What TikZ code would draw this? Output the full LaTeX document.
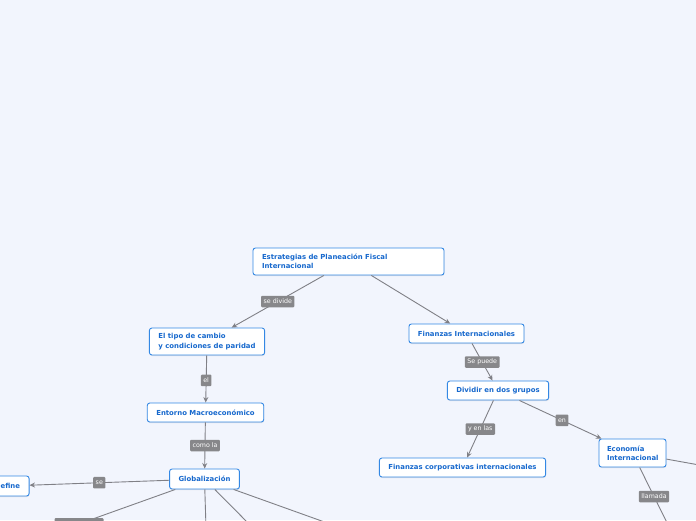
\documentclass[tikz,border=0pt]{standalone}
\usepackage{fontspec}
\setmainfont{DejaVu Sans}
\usetikzlibrary{arrows.meta,shadows}
\definecolor{bg}{RGB}{242,245,253}
\definecolor{nodeblue}{RGB}{52,136,228}
\definecolor{textblue}{RGB}{22,104,205}
\definecolor{edgegray}{RGB}{128,128,134}
\definecolor{lblgray}{RGB}{135,135,138}
\begin{document}
\begin{tikzpicture}[x=1pt,y=-1pt,
  topic/.style={draw=nodeblue, line width=0.9pt, fill=white, rounded corners=2.5pt,
    font=\fontsize{6.9}{9.3}\selectfont\bfseries, text=textblue, anchor=center,
    inner xsep=9pt, inner ysep=0pt,
    drop shadow={opacity=0.18, shadow xshift=0.4pt, shadow yshift=-1pt}},
  lefttext/.style={align=left, text width=#1},
  conn/.style={draw=edgegray, line width=0.9pt},
  arr/.style={conn, -{Stealth[length=5.5pt,width=5pt]}},
  lbl/.style={fill=lblgray, text=white, font=\fontsize{6.3}{7}\selectfont,
    inner xsep=2.5pt, inner ysep=0pt, rounded corners=1pt, minimum height=11.5pt,
    text height=5pt, text depth=1.3pt}
]
\useasboundingbox (0,0) rectangle (696,520);
\clip (0,0) rectangle (696,520);
\fill[bg] (0,0) rectangle (696,520);

% nodes
\node[topic, lefttext=173pt, minimum height=27pt] (est) at (348.5,261.5)
  {Estrategias de Planeación Fiscal\\Internacional};
\node[topic, align=left, minimum width=114pt, minimum height=27pt] (tipo) at (207,341.5)
  {El tipo de cambio\\y condiciones de paridad};
\node[topic, minimum width=115pt, minimum height=19pt] (ent) at (205.5,412.5)
  {Entorno Macroeconómico};
\node[topic, minimum width=69pt, minimum height=20pt] (glob) at (204.5,479)
  {Globalización};
\node[topic, minimum width=43pt, minimum height=20pt] (def) at (7.5,486)
  {Define};
\node[topic, minimum width=115pt, minimum height=19pt] (finint) at (466.5,333.5)
  {Finanzas Internacionales};
\node[topic, minimum width=100pt, minimum height=19pt] (div) at (498,390.5)
  {Dividir en dos grupos};
\node[topic, minimum width=165pt, minimum height=19pt] (fcorp) at (462.5,467.5)
  {Finanzas corporativas internacionales};
\node[topic, lefttext=51pt, inner xsep=8pt, minimum height=28pt] (econ) at (632.5,453)
  {Economía\\Internacional};

% free ends (off the visible area)
\coordinate (g1) at (20,545);
\coordinate (g2) at (207,560);
\coordinate (g3) at (254,529);
\coordinate (g4) at (344,529);
\coordinate (e1) at (682,553);
\coordinate (e2) at (730,470.5);

% connectors
\draw[arr] (est) -- node[lbl] {se divide} (tipo);
\draw[arr] (est) -- (finint);
\draw[arr] (tipo) -- node[lbl, pos=0.53] {el} (ent);
\draw[arr] (ent) -- node[lbl] {como la} (glob);
\draw[arr] (glob) -- node[lbl, pos=0.5] {se} (def);
\draw[conn] (glob) -- node[lbl, pos=0.62, minimum width=49pt] {} (g1);
\draw[conn] (glob) -- (g2);
\draw[conn] (glob) -- (g3);
\draw[conn] (glob) -- (g4);
\draw[arr] (finint) -- node[lbl] {Se puede} (div);
\draw[arr] (div) -- node[lbl] {y en las} (fcorp);
\draw[arr] (div) -- node[lbl, pos=0.52] {en} (econ);
\draw[conn] (econ) -- node[lbl, pos=0.34] {llamada} (e1);
\draw[conn] (econ) -- (e2);
\end{tikzpicture}
\end{document}
